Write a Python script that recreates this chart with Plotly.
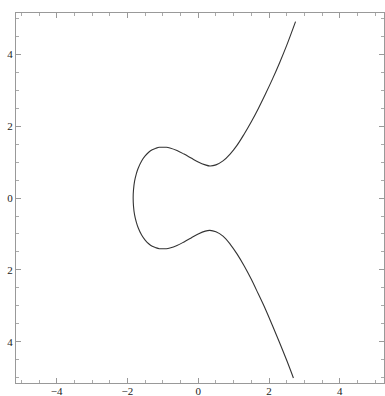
import plotly.graph_objects as go

# Upper branch of the curve
upper_x = [-1.839, -1.83, -1.8, -1.75, -1.7, -1.6, -1.5, -1.4, -1.3, -1.2, -1.1, -1.0,
           -0.9, -0.8, -0.6, -0.4, -0.2, 0.0, 0.2, 0.33, 0.5, 0.7, 0.9, 1.1, 1.3, 1.5,
           1.7, 1.9, 2.1, 2.3, 2.5, 2.75]
upper_y = [0.0, 0.22, 0.46, 0.67, 0.82, 1.03, 1.17, 1.27, 1.34, 1.38, 1.41, 1.41,
           1.41, 1.39, 1.32, 1.22, 1.11, 1.0, 0.92, 0.89, 0.92, 1.03, 1.22, 1.47, 1.78, 2.12,
           2.49, 2.89, 3.31, 3.76, 4.24, 4.90]
# Lower branch
lower_x = [-1.839, -1.83, -1.8, -1.75, -1.7, -1.6, -1.5, -1.4, -1.3, -1.2, -1.1, -1.0,
           -0.9, -0.8, -0.6, -0.4, -0.2, 0.0, 0.2, 0.33, 0.5, 0.7, 0.9, 1.1, 1.3, 1.5,
           1.7, 1.9, 2.1, 2.3, 2.5, 2.69]
lower_y = [0.0, -0.22, -0.46, -0.67, -0.82, -1.03, -1.17, -1.27, -1.34, -1.38, -1.41, -1.41,
           -1.41, -1.39, -1.32, -1.22, -1.11, -1.0, -0.92, -0.90, -0.94, -1.06, -1.28, -1.56, -1.89, -2.26,
           -2.67, -3.09, -3.55, -4.02, -4.51, -5.0]

x_tick_vals = [-4, -2, 0, 2, 4]
x_tick_text = ["\u22124", "\u22122", "0", "2", "4"]
y_tick_vals = [4, 2, 0, -2, -4]
y_tick_text = ["4", "2", "0", "2", "4"]

curve_x = list(reversed(upper_x)) + lower_x[1:]
curve_y = list(reversed(upper_y)) + lower_y[1:]

fig = go.Figure()
fig.add_trace(go.Scatter(x=curve_x, y=curve_y, mode="lines",
                         line=dict(color="#333333", width=1.1, shape="spline"),
                         hoverinfo="skip", showlegend=False))

axis_common = dict(
    showgrid=False, zeroline=False, showline=True, linecolor="#999999", linewidth=1,
    mirror="ticks", ticks="inside", ticklen=5, tickcolor="#999999", tickwidth=1,
    tickfont=dict(family="Liberation Serif", size=11, color="#222222"),
    minor=dict(dtick=0.5, ticks="inside", ticklen=3, tickcolor="#aaaaaa", tickwidth=1),
    automargin=False, ticklabelstandoff=0,
)

fig.update_xaxes(range=[-5.15, 5.25], tickvals=x_tick_vals, ticktext=x_tick_text,
                 **axis_common)
fig.update_yaxes(range=[-5.14, 5.14], tickvals=y_tick_vals, ticktext=y_tick_text,
                 **axis_common)
try:
    fig.update_xaxes(ticklabelstandoff=-2)
except ValueError:
    pass

fig.update_layout(
    template="none",
    width=385, height=396,
    margin=dict(l=16, r=1, t=13, b=13, autoexpand=False),
    paper_bgcolor="white", plot_bgcolor="white",
    showlegend=False,
)
fig.write_html("out.html", config={"displayModeBar": False},
               post_script="document.body.style.margin='0';document.body.style.overflow='hidden';")
